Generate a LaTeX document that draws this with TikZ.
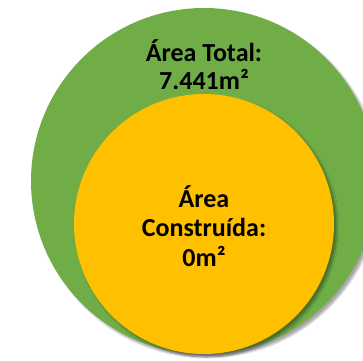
\documentclass[tikz,border=0pt]{standalone}
\usepackage{fontspec}
\setmainfont{Carlito}
\usetikzlibrary{shadows.blur}
\definecolor{greenA}{HTML}{70AD47}
\definecolor{yellowA}{HTML}{FFC000}
\tikzset{
  disc/.style={circle, inner sep=0pt, blur shadow={shadow xshift=3pt, shadow yshift=-3pt, shadow blur steps=6, shadow opacity=35}},
  lbl/.style={align=center, text=black}
}
\begin{document}
\begin{tikzpicture}[x=1pt,y=1pt]
\useasboundingbox (0,0) rectangle (363,360);
\node[disc, fill=greenA, minimum size=346pt] (total) at (204,179) {};
\node[disc, fill=yellowA, minimum size=260pt] (built) at (204,136) {};
\node[lbl, font=\bfseries\fontsize{26}{28}\selectfont] (tlabel) at (204,295) {Área Total:\\7.441m²};
\node[lbl, font=\bfseries\fontsize{26}{29.5}\selectfont] (blabel) at (204,134) {Área\\Construída:\\0m²};
\end{tikzpicture}
\end{document}
